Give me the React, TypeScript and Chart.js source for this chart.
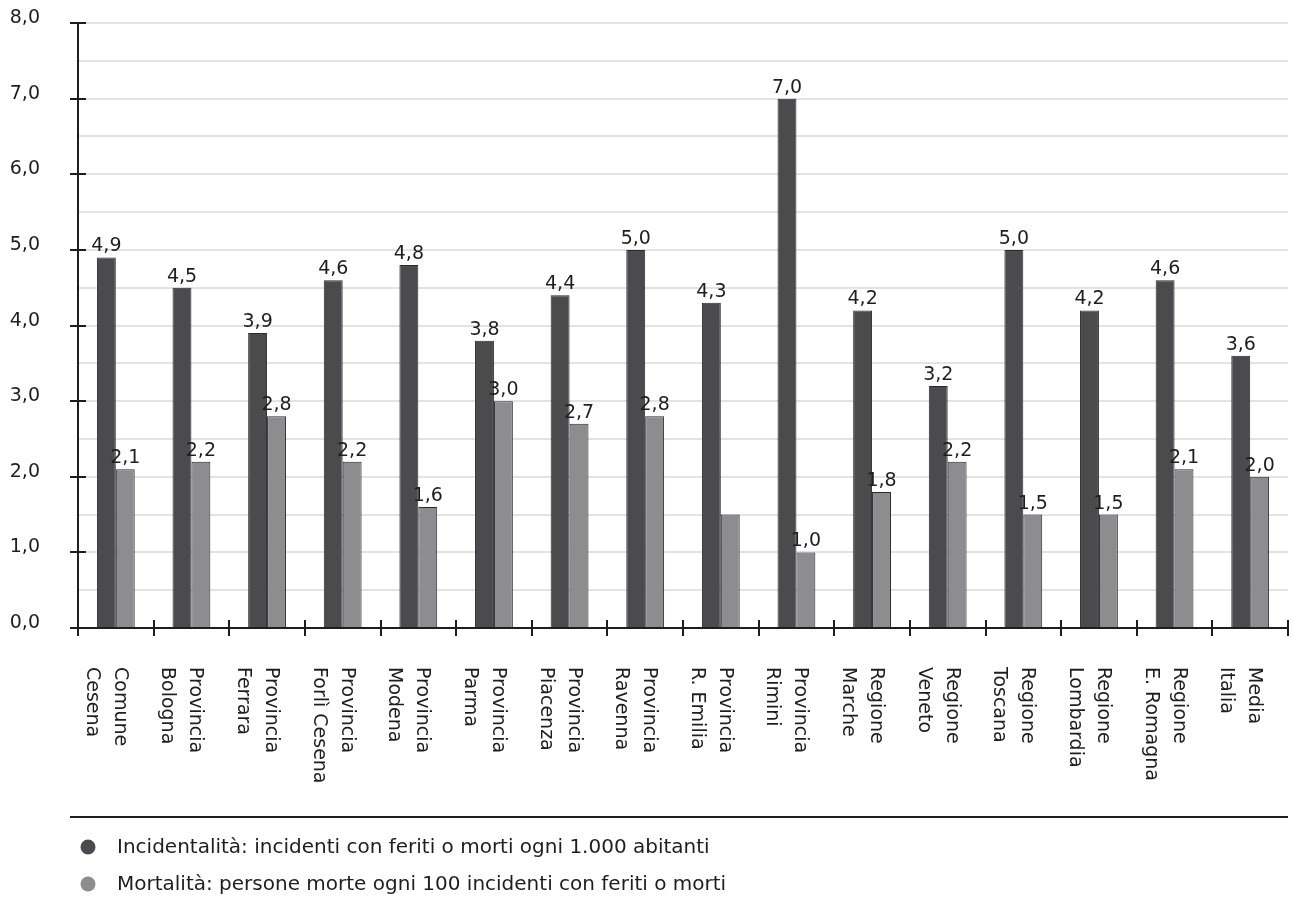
import React, { useEffect, useRef } from "react";
import { Chart, registerables } from "chart.js";

Chart.register(...registerables);

const categories: string[][] = [
  ["Comune", "Cesena"],
  ["Provincia", "Bologna"],
  ["Provincia", "Ferrara"],
  ["Provincia", "Forlì Cesena"],
  ["Provincia", "Modena"],
  ["Provincia", "Parma"],
  ["Provincia", "Piacenza"],
  ["Provincia", "Ravenna"],
  ["Provincia", "R. Emilia"],
  ["Provincia", "Rimini"],
  ["Regione", "Marche"],
  ["Regione", "Veneto"],
  ["Regione", "Toscana"],
  ["Regione", "Lombardia"],
  ["Regione", "E. Romagna"],
  ["Media", "Italia"],
];

const incidentalita: number[] = [4.9, 4.5, 3.9, 4.6, 4.8, 3.8, 4.4, 5.0, 4.3, 7.0, 4.2, 3.2, 5.0, 4.2, 4.6, 3.6];
const mortalita: number[] = [2.1, 2.2, 2.8, 2.2, 1.6, 3.0, 2.7, 2.8, 1.5, 1.0, 1.8, 2.2, 1.5, 1.5, 2.1, 2.0];
// whether the value label is printed above each bar (one label is missing in the source)
const showIncidentalitaLabel: boolean[] = incidentalita.map(() => true);
const showMortalitaLabel: boolean[] = [true, true, true, true, true, true, true, true, false, true, true, true, true, true, true, true];

const legendLabels: string[] = [
  "Incidentalità: incidenti con feriti o morti ogni 1.000 abitanti",
  "Mortalità: persone morte ogni 100 incidenti con feriti o morti",
];

const yTickLabels: number[] = [0, 1, 2, 3, 4, 5, 6, 7, 8];
const yMin = 0;
const yMax = 8;

const DARK = "#4b4b4d";
const LIGHT = "#8d8d8f";
const INK = "#1e1e1e";
const FONT = "'DejaVu Sans', sans-serif";

const fmt = (v: number) => v.toFixed(1).replace(".", ",");

const decorPlugin = {
  id: "decor",
  afterDraw(chart: any) {
    const ctx: CanvasRenderingContext2D = chart.ctx;
    const x = chart.scales.x;
    const y = chart.scales.y;
    const area = chart.chartArea;
    ctx.save();
    ctx.strokeStyle = INK;
    ctx.fillStyle = INK;
    ctx.lineWidth = 2;

    // y axis line
    ctx.beginPath();
    ctx.moveTo(area.left, area.top);
    ctx.lineTo(area.left, area.bottom + 8);
    ctx.stroke();
    // y integer ticks + labels
    ctx.font = `19px ${FONT}`;
    ctx.textAlign = "right";
    ctx.textBaseline = "alphabetic";
    yTickLabels.forEach((v) => {
      const py = Math.round(y.getPixelForValue(v));
      ctx.beginPath();
      ctx.moveTo(area.left - 8, py);
      ctx.lineTo(area.left + 8, py);
      ctx.stroke();
      ctx.fillText(fmt(v), 40, py);
    });
    // x axis line
    ctx.beginPath();
    ctx.moveTo(area.left - 8, area.bottom);
    ctx.lineTo(area.right, area.bottom);
    ctx.stroke();
    // category boundary ticks
    const n = categories.length;
    const step = (area.right - area.left) / n;
    for (let i = 1; i <= n; i++) {
      const px = Math.round(area.left + i * step);
      ctx.beginPath();
      ctx.moveTo(px, area.bottom - 8);
      ctx.lineTo(px, area.bottom + 8);
      ctx.stroke();
    }

    // rotated category labels (clockwise, reading downward)
    ctx.font = `19px ${FONT}`;
    ctx.textAlign = "left";
    ctx.textBaseline = "alphabetic";
    categories.forEach((lines, i) => {
      const cx = x.getPixelForValue(i);
      ctx.save();
      ctx.translate(cx, area.bottom + 39);
      ctx.rotate(Math.PI / 2);
      lines.forEach((t, j) => {
        ctx.fillText(t, 0, 1 + j * 28);
      });
      ctx.restore();
    });

    // value labels
    ctx.textAlign = "center";
    ctx.textBaseline = "alphabetic";
    const drawLabels = (dsIndex: number, values: number[], show: boolean[]) => {
      const meta = chart.getDatasetMeta(dsIndex);
      meta.data.forEach((bar: any, i: number) => {
        if (!show[i]) return;
        ctx.fillText(fmt(values[i]), bar.x, bar.y - 6);
      });
    };
    drawLabels(0, incidentalita, showIncidentalitaLabel);
    drawLabels(1, mortalita, showMortalitaLabel);

    // separator line
    ctx.beginPath();
    ctx.moveTo(area.left - 8, 817);
    ctx.lineTo(area.right, 817);
    ctx.stroke();

    // legend
    const colors = [DARK, LIGHT];
    ctx.font = `20px ${FONT}`;
    ctx.textAlign = "left";
    ctx.textBaseline = "middle";
    legendLabels.forEach((t, i) => {
      const ly = 847 + i * 37;
      ctx.fillStyle = colors[i];
      ctx.beginPath();
      ctx.arc(88, ly, 7.5, 0, Math.PI * 2);
      ctx.fill();
      ctx.fillStyle = INK;
      ctx.fillText(t, 117, ly + 1);
    });
    ctx.restore();
  },
};

export default function App() {
  const ref = useRef<HTMLCanvasElement | null>(null);

  useEffect(() => {
    if (!ref.current) return;
    const chart = new Chart(ref.current, {
      type: "bar",
      data: {
        labels: categories.map((c) => c.join(" ")),
        datasets: [
          {
            label: legendLabels[0],
            data: incidentalita,
            backgroundColor: DARK,
            borderColor: "#2a2a2a",
            borderWidth: 1,
            categoryPercentage: 0.5,
            barPercentage: 1,
          },
          {
            label: legendLabels[1],
            data: mortalita,
            backgroundColor: LIGHT,
            borderColor: "#2a2a2a",
            borderWidth: 1,
            categoryPercentage: 0.5,
            barPercentage: 1,
          },
        ],
      },
      options: {
        responsive: false,
        maintainAspectRatio: false,
        animation: false,
        layout: { padding: { top: 23, right: 11, left: 0, bottom: 0 } },
        plugins: { legend: { display: false }, tooltip: { enabled: false } },
        scales: {
          x: {
            ticks: { display: false },
            grid: { display: false },
            border: { display: false },
            afterFit: (s: any) => {
              s.height = 271;
            },
          },
          y: {
            min: yMin,
            max: yMax,
            ticks: { display: false, stepSize: 0.5, autoSkip: false },
            grid: { color: "#e3e3e3", lineWidth: 2, drawTicks: false },
            border: { display: false },
            afterFit: (s: any) => {
              s.width = 78;
            },
          },
        },
      },
      plugins: [decorPlugin],
    });
    return () => chart.destroy();
  }, []);

  return (
    <div style={{ position: "fixed", left: 0, top: 0, width: 1299, height: 899, background: "#fff" }}>
      <canvas ref={ref} width={1299} height={899} />
    </div>
  );
}
